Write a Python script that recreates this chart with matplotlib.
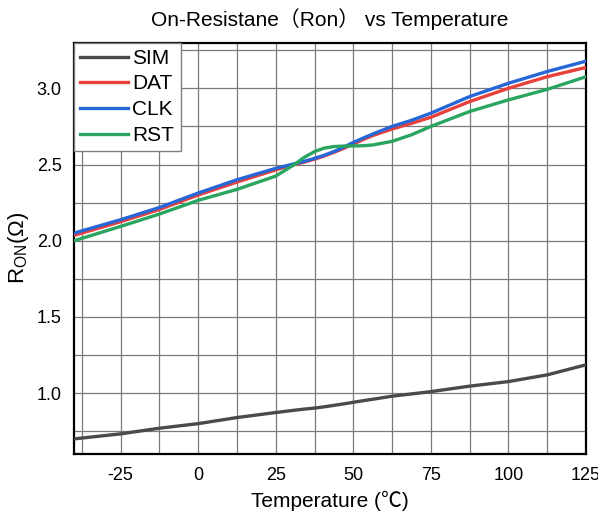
import matplotlib
matplotlib.use("Agg")
import matplotlib.pyplot as plt
from matplotlib.ticker import MultipleLocator, FormatStrFormatter

plt.rcParams['font.family'] = ['Liberation Sans', 'Noto Sans CJK SC', 'DejaVu Sans']
plt.rcParams['axes.unicode_minus'] = False

# temperature points (°C)
temp = [-40, -25, -12.5, 0, 12.5, 25, 31, 34, 37.5, 40.5, 43.75, 47, 50, 53, 56.25,
        62.5, 68.75, 75, 87.5, 100, 112.5, 125]

sim = [0.70, 0.733, 0.77, 0.80, 0.84, 0.873, 0.888, 0.895, 0.902, 0.91, 0.92, 0.93,
       0.94, 0.95, 0.96, 0.98, 0.995, 1.01, 1.046, 1.076, 1.12, 1.186]
dat = [2.035, 2.125, 2.205, 2.30, 2.385, 2.465, 2.50, 2.515, 2.535, 2.555, 2.58, 2.607,
       2.635, 2.662, 2.69, 2.733, 2.77, 2.81, 2.913, 3.0, 3.076, 3.137]
clk = [2.05, 2.138, 2.218, 2.313, 2.40, 2.475, 2.505, 2.52, 2.54, 2.56, 2.585, 2.615,
       2.645, 2.672, 2.70, 2.75, 2.79, 2.837, 2.946, 3.033, 3.11, 3.178]
rst = [2.0, 2.094, 2.175, 2.265, 2.337, 2.424, 2.50, 2.545, 2.585, 2.607, 2.618, 2.621,
       2.622, 2.623, 2.628, 2.652, 2.695, 2.75, 2.848, 2.924, 2.993, 3.076]

names = ['SIM', 'DAT', 'CLK', 'RST']
colors = ['#4a4a4a', '#e8413c', '#2666d6', '#2aa560']

fig = plt.figure(figsize=(5.98, 5.19), dpi=100)
ax = fig.add_axes([0.124, 0.125, 0.856, 0.793])

for vals, name, c in zip([sim, dat, clk, rst], names, colors):
    ax.plot(temp, vals, color=c, linewidth=2.4, label=name, zorder=3,
            solid_joinstyle='round')

ax.set_xlim(-40, 125)
ax.set_ylim(0.6, 3.3)
ax.xaxis.set_major_locator(MultipleLocator(25))
ax.xaxis.set_minor_locator(MultipleLocator(12.5))
ax.yaxis.set_major_locator(MultipleLocator(0.5))
ax.yaxis.set_minor_locator(MultipleLocator(0.25))
ax.yaxis.set_major_formatter(FormatStrFormatter('%.1f'))
ax.grid(which='both', color='#7a7a7a', linewidth=0.9)
ax.tick_params(which='both', length=0, labelsize=13, pad=9)
for s in ax.spines.values():
    s.set_linewidth(1.6)
    s.set_color('black')

ax.set_title('On-Resistane（Ron） vs Temperature', fontsize=15, pad=12)
ax.set_xlabel('Temperature (℃)', fontsize=15, labelpad=5)
ax.set_ylabel(r'R$_{\mathregular{ON}}$(Ω)', fontsize=16, labelpad=4)

leg = ax.legend(loc='upper left', fontsize=15, borderaxespad=0, handlelength=2.3,
                labelspacing=0.32, handletextpad=0.2, borderpad=0.3, fancybox=False,
                framealpha=1, edgecolor='#808080')
leg.get_frame().set_linewidth(1.0)

fig.savefig('out.png', dpi=100)
